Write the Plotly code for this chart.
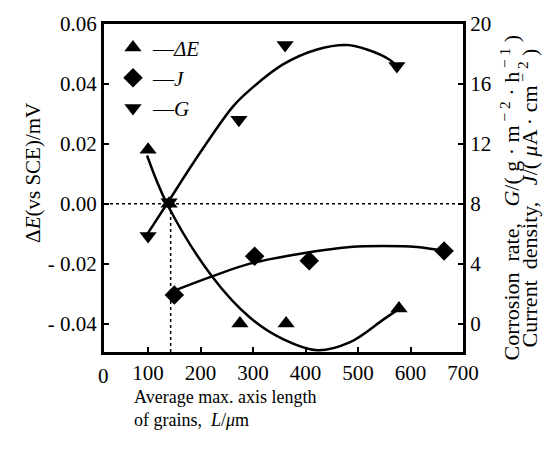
import plotly.graph_objects as go

# ---- data ----
# measured points
dE_L = [100, 140, 275, 363, 578]
dE_val = [0.018, 0.0, -0.040, -0.040, -0.035]          # mV (left axis)

J_L = [150, 303, 407, 664]
J_val = [1.9, 4.5, 4.2, 4.85]                            # right axis

G_L = [100, 140, 273, 361, 574]
G_val = [5.85, 8.1, 13.6, 18.6, 17.2]                     # right axis

# fitted curves
dE_fit_L = [98, 136, 222, 294, 357, 422, 485, 548, 578]
dE_fit_val = [0.0161, 0.0, -0.0243, -0.0380, -0.0452, -0.0489, -0.0462, -0.0387, -0.0351]

G_fit_L = [96, 136, 199, 262, 294, 357, 422, 479, 517, 561, 576]
G_fit_val = [5.84, 8.0, 11.4, 14.5, 15.6, 17.3, 18.3, 18.6, 18.3, 17.6, 17.1]

J_fit_L = [150, 222, 294, 390, 485, 548, 612, 664]
J_fit_val = [2.2, 3.15, 4.0, 4.66, 5.11, 5.18, 5.11, 4.85]

crossing_L = 143

x_ticks = [100, 200, 300, 400, 500, 600, 700]
yl_ticks = [0.06, 0.04, 0.02, 0.0, -0.02, -0.04]
yl_text = ["0.06", "0.04", "0.02", "0.00", "- 0.02", "- 0.04"]
yr_ticks = [0, 4, 8, 12, 16, 20]

X_MIN, X_MAX = 16, 700
FONT = "Liberation Serif"
fig = go.Figure()

# curves
for xs, ys, ax in [(dE_fit_L, dE_fit_val, "y"), (G_fit_L, G_fit_val, "y2"), (J_fit_L, J_fit_val, "y2")]:
    fig.add_trace(go.Scatter(x=xs, y=ys, yaxis=ax, mode="lines",
                             line=dict(color="black", width=2.5, shape="spline"),
                             showlegend=False, hoverinfo="skip"))

# points
fig.add_trace(go.Scatter(x=dE_L, y=dE_val, mode="markers", name="—<i>ΔE</i>",
                         marker=dict(symbol="triangle-up", size=15, color="black")))
fig.add_trace(go.Scatter(x=J_L, y=J_val, yaxis="y2", mode="markers", name="—<i>J</i>",
                         marker=dict(symbol="diamond", size=15, color="black")))
fig.add_trace(go.Scatter(x=G_L, y=G_val, yaxis="y2", mode="markers", name="—<i>G</i>",
                         marker=dict(symbol="triangle-down", size=15, color="black")))

# dashed guide lines
fig.add_shape(type="line", xref="paper", yref="y", x0=0, x1=1, y0=0, y1=0,
              line=dict(color="black", width=1.5, dash="dot"))
fig.add_shape(type="line", xref="x", yref="paper", x0=crossing_L, x1=crossing_L, y0=0, y1=(0.0495) / 0.1095,
              line=dict(color="black", width=1.5, dash="dot"))

axis_common = dict(showline=True, linecolor="black", linewidth=3, ticks="inside", ticklen=5,
                   tickwidth=1.5, tickcolor="black", showgrid=False, zeroline=False,
                   tickfont=dict(family=FONT, size=21, color="black"))

fig.update_layout(
    width=550, height=452,
    margin=dict(l=104, r=87, t=17, b=100),
    paper_bgcolor="white", plot_bgcolor="white",
    font=dict(family=FONT, color="black"),
    xaxis=dict(range=[X_MIN, X_MAX], tickvals=x_ticks, mirror=True, **axis_common),
    yaxis=dict(range=[-0.0495, 0.06], tickvals=yl_ticks, ticktext=yl_text, mirror=True, **axis_common),
    yaxis2=dict(range=[-1.9, 20], tickvals=yr_ticks, overlaying="y", side="right", **axis_common),
    legend=dict(x=0.025, y=0.99, xanchor="left", yanchor="top", bgcolor="rgba(0,0,0,0)",
                font=dict(family=FONT, size=21, color="black"), itemwidth=30, tracegroupgap=0),
    showlegend=True,
)

# "0" label of the x axis (x = 0 falls just left of the frame)
fig.add_annotation(xref="paper", yref="paper", x=(0 - X_MIN) / (X_MAX - X_MIN), y=-0.03, yanchor="top",
                   showarrow=False, text="0", font=dict(family=FONT, size=21, color="black"))
fig.add_annotation(xref="paper", yref="paper", x=-0.235, y=0.545, textangle=-90, showarrow=False,
                   text="Δ<i>E</i>(vs SCE)/mV", font=dict(family=FONT, size=21, color="black"))
fig.add_annotation(xref="paper", yref="paper", x=1.13, y=0.47, xanchor="center", textangle=-90, showarrow=False,
                   text="Corrosion  rate,   <i>G</i>/( g · m<sup> − 2</sup> · h<sup> − 1</sup> )",
                   font=dict(family=FONT, size=22, color="black"))
fig.add_annotation(xref="paper", yref="paper", x=1.18, y=0.47, xanchor="center", textangle=-90, showarrow=False,
                   text="Current  density,   <i>J</i>/( <i>μ</i>A · cm<sup> − 2</sup> )",
                   font=dict(family=FONT, size=22, color="black"))
fig.add_annotation(xref="paper", yref="paper", x=0.078, y=-0.101, xanchor="left", yanchor="top", showarrow=False,
                   text="Average max. axis length<br>of grains,  <i>L</i>/<i>μ</i>m", align="left",
                   font=dict(family=FONT, size=18, color="black"))

fig.write_html("out.html")
